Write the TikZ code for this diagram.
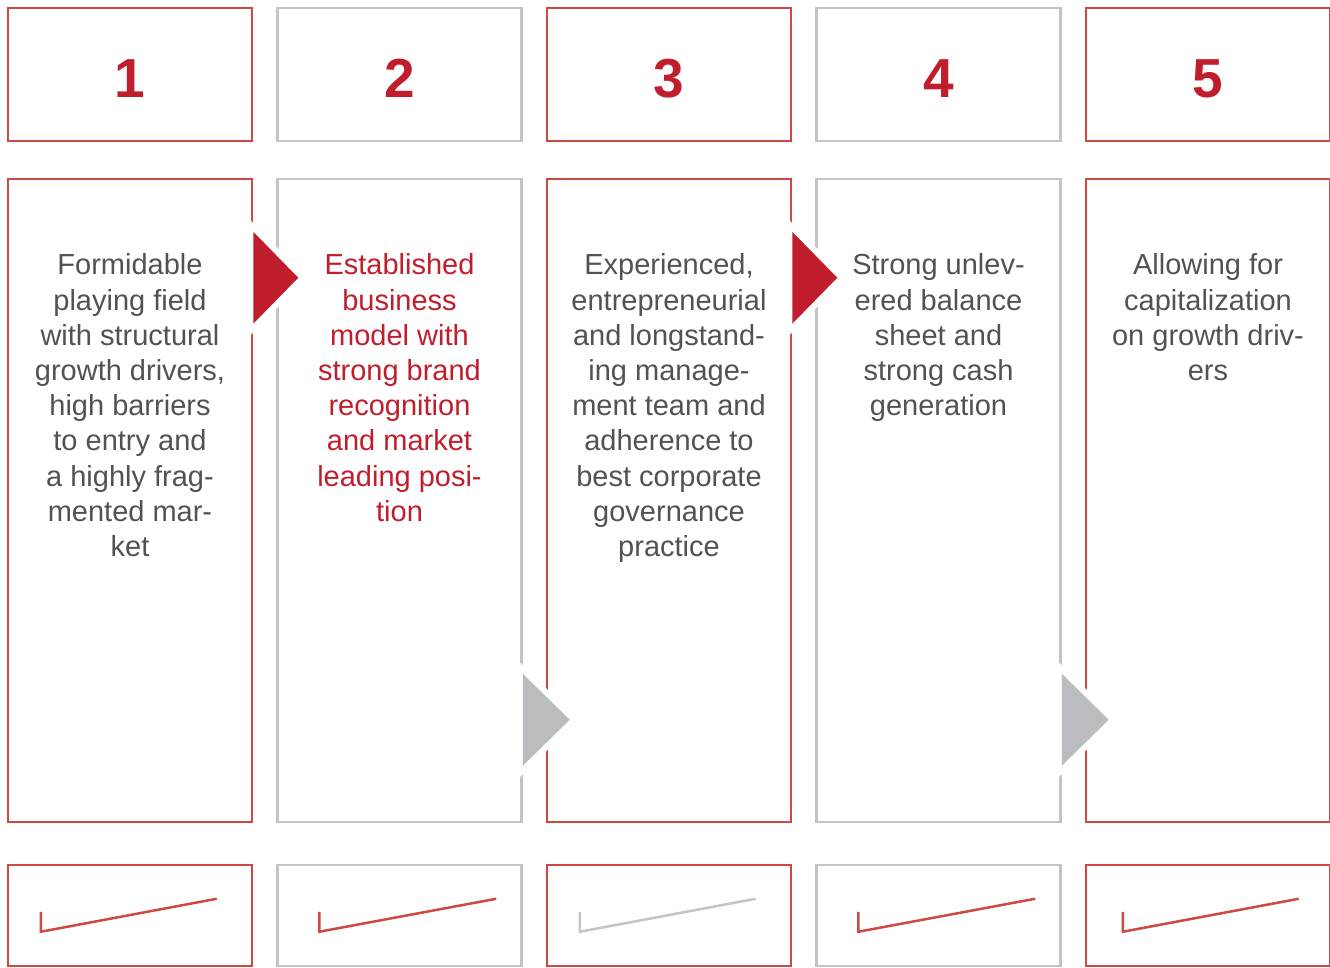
\documentclass[tikz,border=0pt]{standalone}
\usepackage{fontspec}
\setmainfont{Liberation Sans}
\usetikzlibrary{positioning,calc}
\definecolor{brandred}{RGB}{192,30,45}
\definecolor{borderred}{RGB}{208,72,66}
\definecolor{boxgray}{RGB}{196,196,200}
\definecolor{arrowgray}{RGB}{187,188,192}
\definecolor{textgray}{RGB}{82,82,82}
\tikzset{
  panel/.style={rectangle,line width=2.5pt,minimum width=244pt,inner sep=0pt},
  numbox/.style={panel,minimum height=133pt,text=brandred,text height=47pt,text depth=0pt,
    font=\fontsize{55}{60}\selectfont\bfseries},
  descbox/.style={panel,minimum height=643pt},
  trendbox/.style={panel,minimum height=101pt},
  desctext/.style={anchor=north,align=center,inner sep=0pt,text=textgray,font=\fontsize{29}{35.2}\selectfont},
  trendline/.style={line width=2.5pt,line join=miter},
  redtri/.style={fill=brandred,preaction={draw=white,line width=12pt}},
  graytri/.style={fill=arrowgray,preaction={draw=white,line width=12pt}}
}

\begin{document}
\begin{tikzpicture}[x=1pt,y=-1pt]
  \useasboundingbox (0,0) rectangle (1330,968);
  % three rows of boxes per column
  \foreach \i/\c in {1/borderred,2/boxgray,3/borderred,4/boxgray,5/borderred} {
    \node[numbox,draw=\c] (num\i) at ({130+269.5*(\i-1)},74.5) {\i};
    \node[descbox,draw=\c] (desc\i) at ({130+269.5*(\i-1)},500.5) {};
    \node[trendbox,draw=\c] (trend\i) at ({130+269.5*(\i-1)},915.5) {};
  }
  % texts
  \node[desctext] (txt1) at ($(desc1.north)+(0,76)$) {Formidable\\playing field\\with structural\\growth drivers,\\high barriers\\to entry and\\a highly frag-\\mented mar-\\ket};
  \node[desctext,text=brandred] (txt2) at ($(desc2.north)+(0,76)$) {Established\\business\\model with\\strong brand\\recognition\\and market\\leading posi-\\tion};
  \node[desctext] (txt3) at ($(desc3.north)+(0,76)$) {Experienced,\\entrepreneurial\\and longstand-\\ing manage-\\ment team and\\adherence to\\best corporate\\governance\\practice};
  \node[desctext] (txt4) at ($(desc4.north)+(0,76)$) {Strong unlev-\\ered balance\\sheet and\\strong cash\\generation};
  \node[desctext] (txt5) at ($(desc5.north)+(0,76)$) {Allowing for\\capitalization\\on growth driv-\\ers};
  % trend marks
  \foreach \i/\c/\s/\e in {1/borderred/34/210,2/borderred/43/220,3/boxgray/34/210,4/borderred/43/220,5/borderred/38/214}
    \draw[trendline,draw=\c] ($(trend\i.north west)+(\s,48)$) -- ++(0,20) -- ($(trend\i.north west)+(\e,35)$);
  % arrows between columns
  \foreach \a in {1,3}
    \path[redtri] ($(desc\a.north east)+(0,54)$) -- ($(desc\a.north east)+(45,100)$) -- ($(desc\a.north east)+(0,146)$) -- cycle;
  \foreach \a in {2,4}
    \path[graytri] ($(desc\a.north east)+(0,496)$) -- ($(desc\a.north east)+(47,542)$) -- ($(desc\a.north east)+(0,588)$) -- cycle;
\end{tikzpicture}
\end{document}
